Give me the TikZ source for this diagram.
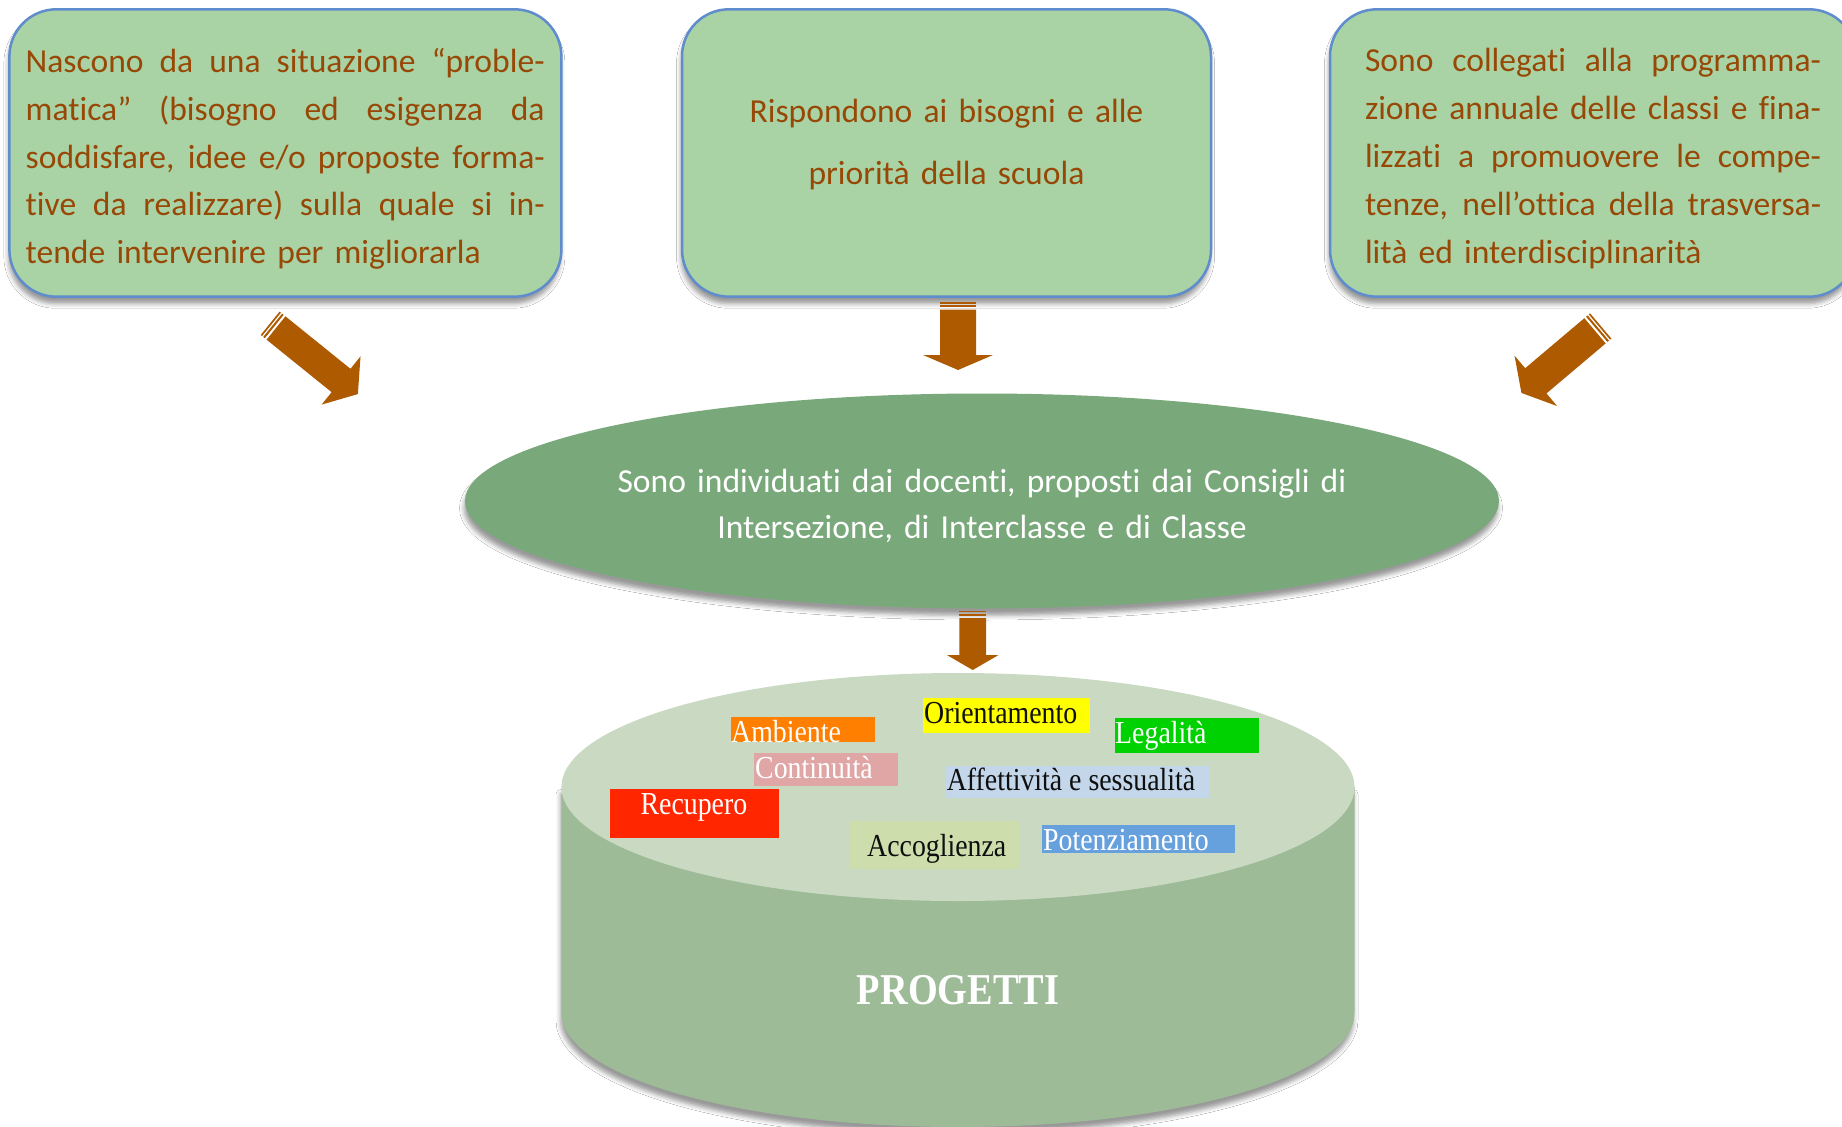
\documentclass[tikz,border=0pt]{standalone}
\usepackage{fontspec}
\setmainfont{Carlito}[Ligatures=NoCommon]
\newfontfamily\labfont[FakeStretch=0.87]{Liberation Serif}
\usetikzlibrary{shapes.geometric,shadows.blur}
\definecolor{boxfill}{RGB}{169,211,165}
\definecolor{boxline}{RGB}{95,140,205}
\definecolor{boxtext}{RGB}{152,72,6}
\definecolor{arrowc}{RGB}{174,90,0}
\definecolor{ellfill}{RGB}{121,168,122}
\definecolor{cyltopc}{RGB}{201,217,194}
\definecolor{cylbodyc}{RGB}{158,187,152}
\definecolor{cAmb}{RGB}{255,127,0}
\definecolor{cOri}{RGB}{255,255,0}
\definecolor{cLeg}{RGB}{0,209,0}
\definecolor{cCon}{RGB}{224,166,166}
\definecolor{cAff}{RGB}{195,214,234}
\definecolor{cRec}{RGB}{255,38,0}
\definecolor{cAcc}{RGB}{205,221,172}
\definecolor{cPot}{RGB}{102,160,221}
\definecolor{labblack}{RGB}{15,15,15}

% justified line of a given width: spaces stretch equally
\newcommand\jl[2]{\leavevmode\hbox to #1{\spaceskip=0.226em plus 1fil\relax #2}}

% #1 tail centre, #2 angle, #3 body length, #4 head length, #5 body half width, #6 head half width
\newcommand\stripedarrow[6]{%
 \begin{scope}[shift={#1}, rotate=#2]
  \fill[arrowc] (-7.5,-#5) rectangle (-5.8,#5);
  \fill[arrowc] (-4.3,-#5) rectangle (-2.3,#5);
  \fill[arrowc] (0,-#5) -- (#3,-#5) -- (#3,-#6) -- ({#3+#4},0) -- (#3,#6) -- (#3,#5) -- (0,#5) -- cycle;
 \end{scope}}

\tikzset{
  softshadow/.style={blur shadow={shadow xshift=-1pt, shadow yshift=-7pt, shadow blur radius=4.5pt, shadow opacity=40}},
  topbox/.style={draw=boxline, line width=2.5pt, fill=boxfill, rounded corners=47pt, inner sep=0pt, softshadow},
  boxtxt/.style={text=boxtext, inner sep=0pt, align=left, font=\fontsize{33.6pt}{47.9pt}\selectfont},
  lab/.style={anchor=base west, inner sep=0pt, font=\labfont\fontsize{32pt}{36pt}\selectfont},
}

\begin{document}
\begin{tikzpicture}[x=1pt, y=-1pt]
\useasboundingbox (0,0) rectangle (1842,1127);
\fill[white] (0,0) rectangle (1842,1127);

% top boxes
\node[topbox, minimum width=552pt, minimum height=287.4pt] (b1) at (285.4,153) {};
\node[topbox, minimum width=529pt, minimum height=287.4pt] (b2) at (946.5,153) {};
\node[topbox, minimum width=526pt, minimum height=287.4pt] (b3) at (1593,153) {};

\node[boxtxt, text width=519pt] (t1) at (285.2,158.8) {%
\jl{519pt}{Nascono da una situazione “proble-}\\
\jl{519pt}{matica” (bisogno ed esigenza da}\\
\jl{519pt}{soddisfare, idee e/o proposte forma-}\\
\jl{519pt}{tive da realizzare) sulla quale si in-}\\
tende intervenire per migliorarla};

\node[boxtxt, text width=440pt, align=center, font=\fontsize{33.6pt}{62pt}\selectfont] (t2) at (946.5,144.5) {Rispondono ai bisogni e alle\\priorità della scuola};

\node[boxtxt, text width=456pt] (t3) at (1593,158.8) {%
\jl{456pt}{Sono collegati alla programma-}\\
\jl{456pt}{zione annuale delle classi e fina-}\\
\jl{456pt}{lizzati a promuovere le compe-}\\
\jl{456pt}{tenze, nell’ottica della trasversa-}\\
lità ed interdisciplinarità};

% arrows from the boxes
\stripedarrow{(276,328)}{-38.9}{83.6}{21.6}{15}{31}
\stripedarrow{(958,309.5)}{-90}{45.5}{15}{18}{35}
\stripedarrow{(1595,330.8)}{-139.8}{77.5}{18.8}{16.5}{33}

% ellipse
\node[ellipse, fill=ellfill, minimum width=1034pt, minimum height=215pt, inner sep=0pt, softshadow] (ell) at (982,501) {};
\node[inner sep=0pt, text=white, align=center, text width=800pt, font=\fontsize{33.6pt}{46pt}\selectfont] (elltext) at (982,506) {Sono individuati dai docenti, proposti dai Consigli di\\Intersezione, di Interclasse e di Classe};

\stripedarrow{(972.7,618)}{-90}{37}{15}{13.4}{25.8}

% cylinder
\fill[cylbodyc, softshadow] (561.5,787) -- (561.5,1013) arc[start angle=180, end angle=360, x radius=396.5pt, y radius=114pt] -- (1354.5,787) -- cycle;
\node[ellipse, fill=cyltopc, minimum width=793pt, minimum height=228pt, inner sep=0pt] (cyltop) at (958,787) {};

% labels
\fill[cAmb] (730.5,717.3) rectangle (875,741.7);
\node[lab, text=white] (ambiente) at (731,742) {Ambiente};
\fill[cOri] (922.5,698.3) rectangle (1090.4,732.7);
\node[lab, text=labblack] (orientamento) at (924,723.5) {Orientamento};
\fill[cLeg] (1114.5,718) rectangle (1258.7,752.7);
\node[lab, text=white] (legalita) at (1115,743.3) {Legalità};
\fill[cCon] (754,753) rectangle (898.4,785.7);
\node[lab, text=white] (continuita) at (755,778.3) {Continuità};
\fill[cAff] (946,766) rectangle (1210,798.3);
\node[lab, text=labblack] (affettivita) at (946.6,790) {Affettività e sessualità};
\fill[cRec] (610,789) rectangle (778.7,837.7);
\node[lab, text=white] (recupero) at (640.4,814) {Recupero};
\fill[cAcc] (850,821) rectangle (1019,869.3);
\node[lab, text=labblack] (accoglienza) at (867,856.7) {Accoglienza};
\fill[cPot] (1042,825) rectangle (1234.5,852.7);
\node[lab, text=white] (potenziamento) at (1043,850.7) {Potenziamento};

\node[inner sep=0pt, anchor=base, text=white, font=\labfont\bfseries\fontsize{44pt}{50pt}\selectfont] (progetti) at (958,1004) {PROGETTI};
\end{tikzpicture}
\end{document}
